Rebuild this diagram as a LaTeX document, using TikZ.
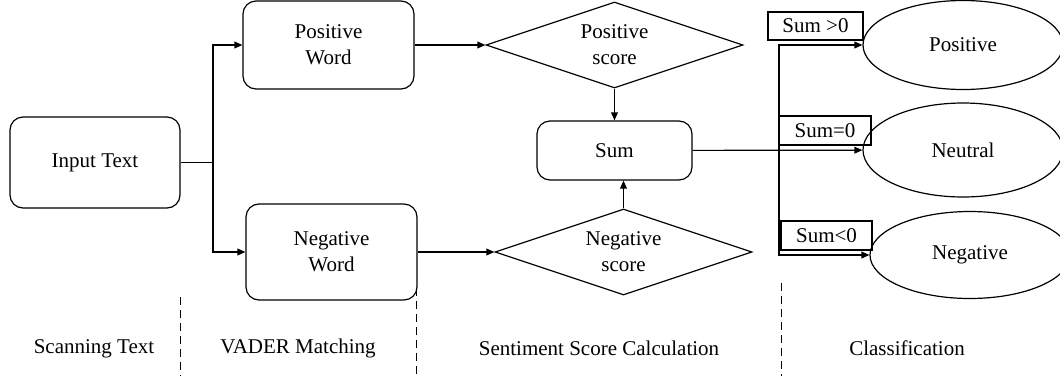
\documentclass[tikz,border=0pt]{standalone}
\usepackage{fontspec}
\setmainfont{Liberation Serif}
\usepackage{tikz}
\usetikzlibrary{calc}
\usetikzlibrary{positioning}
\usetikzlibrary{shapes.geometric}
\usetikzlibrary{arrows.meta}

\tikzset{
  stagebox/.style={draw, rounded corners=6.5pt, align=center, inner sep=2pt},
  scorebox/.style={draw, diamond, shape aspect=3, inner sep=0pt, align=center,
    minimum width=128.5pt, minimum height=43pt},
  classnode/.style={draw, ellipse, inner sep=0pt, minimum width=100pt},
  condbox/.style={draw, rectangle, inner sep=1pt, minimum height=14.5pt},
}

\begin{document}
\begin{tikzpicture}[x=0.5pt, y=-0.5pt, line width=0.6pt,
    >={Triangle[length=4pt,width=3.4pt]},
    font=\fontsize{10.5}{13}\selectfont]
    \useasboundingbox (0,0) rectangle (1060,376);

    \node[stagebox, minimum width=85pt, minimum height=45.5pt] (input) at (95,162.5) {Input Text};
    \node[stagebox, minimum width=85.5pt, minimum height=44pt] (posw) at (328.5,45) {Positive\\Word};
    \node[stagebox, minimum width=85.5pt, minimum height=48pt] (negw) at (331.5,252) {Negative\\Word};

    \node[scorebox] (posd) at (614.5,45) {Positive\\score};
    \node[scorebox] (negd) at (623.5,252) {Negative\\score};
    \node[stagebox, minimum width=77.5pt, minimum height=29.5pt] (sum) at (614.5,150.5) {Sum};

    \node[classnode, minimum height=44.5pt] (pos) at (963,45) {Positive};
    \node[classnode, minimum height=47pt] (neu) at (963,150) {Neutral};
    \node[classnode, minimum height=43.5pt] (neg) at (970,255) {Negative};

    \node[condbox, minimum width=47.5pt, minimum height=14pt] (sgt) at (815.5,26) {Sum >0};
    \node[condbox, minimum width=46pt] (seq) at (825,130.5) {Sum=0};
    \node[condbox, minimum width=45.5pt] (slt) at (826.5,235.5) {Sum<0};

    \coordinate (split) at (213,162.5);
    \coordinate (branch) at (779,150);

    \draw (input) -- (split);
    \draw[->] (split) |- (posw);
    \draw[->] (split) |- (negw);
    \draw[->] (posw) -- (posd);
    \draw[->] (negw) -- (negd);
    \draw[->] (posd) -- (sum);
    \draw[->] (negd.north) -- (negd.north |- sum.south);
    \draw[->] (sum) -- (neu);
    \draw[->] (branch) |- (pos);
    \draw[->] (branch) |- (neg);

    \foreach \x/\y in {180/297, 416/288, 781/283}{
      \draw[dash pattern=on 4pt off 2.5pt, line width=0.5pt] (\x,\y) -- (\x,376);
    }

    \node (lscan) at (94,349) {Scanning Text};
    \node (lvader) at (298,348) {VADER Matching};
    \node (lscore) at (599,348) {Sentiment Score Calculation};
    \node (lclass) at (907,348) {Classification};

  \end{tikzpicture}
\end{document}
